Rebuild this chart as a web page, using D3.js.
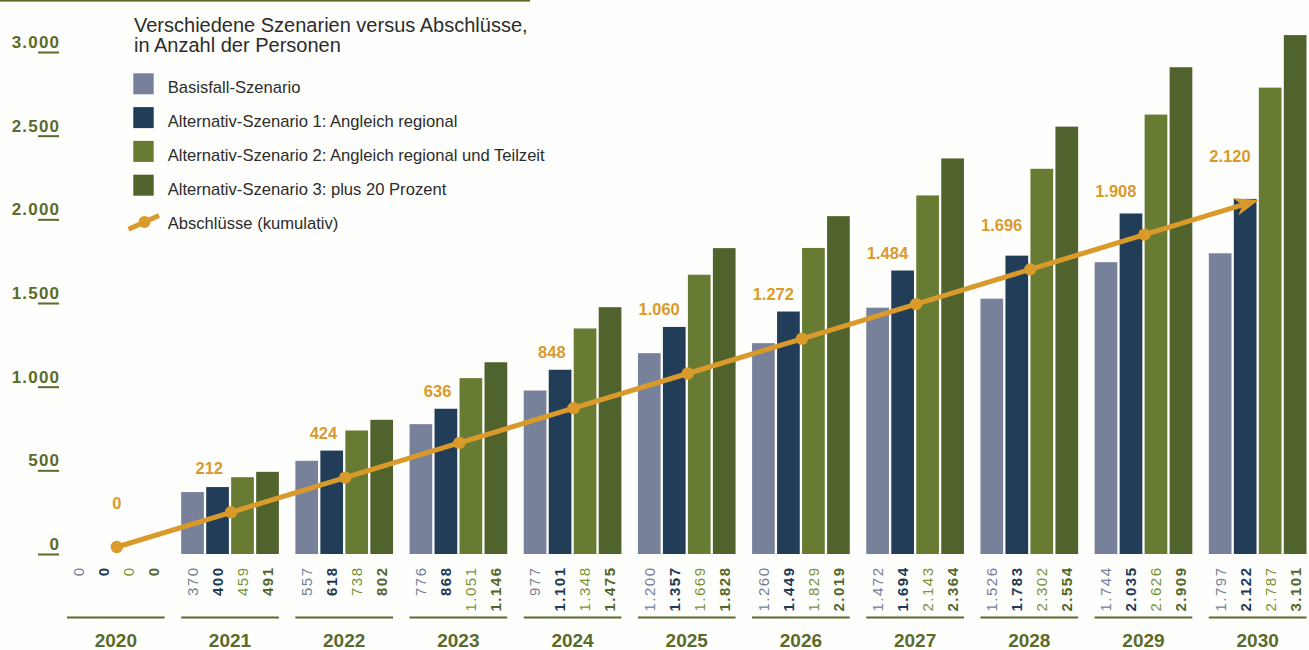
<!DOCTYPE html>
<html>
<head>
<meta charset="utf-8">
<script src="https://cdn.jsdelivr.net/npm/d3@7"></script>
<style>
  html, body { margin: 0; padding: 0; background: #fefefd; }
  svg { display: block; font-family: "Liberation Sans", Arial, Helvetica, sans-serif; }
</style>
</head>
<body>
<svg id="chart" width="1309" height="650"></svg>
<script>
// ---------- data ----------
const years = ["2020","2021","2022","2023","2024","2025","2026","2027","2028","2029","2030"];
const basisfall = [0, 370, 557, 776, 977, 1200, 1260, 1472, 1526, 1744, 1797];
const alternativ1 = [0, 400, 618, 868, 1101, 1357, 1449, 1694, 1783, 2035, 2122];
const alternativ2 = [0, 459, 738, 1051, 1348, 1669, 1829, 2143, 2302, 2626, 2787];
const alternativ3 = [0, 491, 802, 1146, 1475, 1828, 2019, 2364, 2554, 2909, 3101];
const abschluesse = [0, 212, 424, 636, 848, 1060, 1272, 1484, 1696, 1908, 2120];
const seriesNames = [
  "Basisfall-Szenario",
  "Alternativ-Szenario 1: Angleich regional",
  "Alternativ-Szenario 2: Angleich regional und Teilzeit",
  "Alternativ-Szenario 3: plus 20 Prozent"
];
const lineName = "Abschlüsse (kumulativ)";
const titleLines = ["Verschiedene Szenarien versus Abschlüsse,", "in Anzahl der Personen"];
const yTicks = [0, 500, 1000, 1500, 2000, 2500, 3000];

// ---------- styles ----------
const barColors = ["#77819a", "#213d57", "#687b33", "#50632c"];
const labelColors = ["#76809a", "#1f3a55", "#789338", "#53672a"];
const labelWeights = ["normal", "bold", "normal", "bold"];
const orange = "#d99a2b";
const olive = "#5b6b2a";

const series = [basisfall, alternativ1, alternativ2, alternativ3];
const de = d3.formatLocale({decimal: ",", thousands: ".", grouping: [3], currency: ["", " €"]});
const fmt = de.format(",d");

const svg = d3.select("#chart");

// ---------- scales ----------
const x = d3.scaleBand().domain(years).range([67, 1306.5]).paddingInner(0.1445).paddingOuter(0);
const xs = d3.scaleBand().domain(d3.range(4)).range([0, x.bandwidth()]).paddingInner(0.092).paddingOuter(0);
const y = d3.scaleLinear().domain([0, 3000]).range([554, 52]);
const yLine = d3.scaleLinear().domain([0, d3.max(abschluesse)]).range([547, 200]);

// top rule
svg.append("rect").attr("x", 0).attr("y", 0).attr("width", 530).attr("height", 1.6).attr("fill", olive);

// ---------- y axis ----------
const yAxis = d3.axisLeft(y).tickValues(yTicks).tickFormat(fmt).tickSizeInner(21).tickSizeOuter(0);
const gy = svg.append("g").attr("transform", "translate(59,0)").call(yAxis);
gy.select(".domain").remove();
gy.selectAll(".tick line").attr("stroke", olive).attr("stroke-width", 2);
gy.selectAll(".tick text")
  .attr("x", 1.2).attr("dy", -4.5)
  .attr("text-anchor", "end")
  .attr("fill", olive)
  .attr("font-size", 17).attr("font-weight", "bold")
  .attr("letter-spacing", 1.2)
  .style("font-family", "'Liberation Sans', Arial, sans-serif");

// ---------- bars ----------
const groups = svg.append("g").selectAll("g.year").data(years).join("g")
  .attr("class", "year")
  .attr("transform", d => `translate(${x(d)},0)`);

groups.selectAll("rect").data((d, i) => series.map((s, k) => ({k, v: s[i]}))).join("rect")
  .attr("x", d => xs(d.k))
  .attr("width", xs.bandwidth())
  .attr("y", d => y(d.v))
  .attr("height", d => y(0) - y(d.v))
  .attr("fill", d => barColors[d.k]);

// value labels (rotated)
groups.selectAll("text.val").data((d, i) => series.map((s, k) => ({k, v: s[i]}))).join("text")
  .attr("class", "val")
  .attr("transform", d => `translate(${xs(d.k) + xs.bandwidth() / 2},566.5) rotate(-90)`)
  .attr("text-anchor", "end")
  .attr("dy", "0.36em")
  .attr("font-size", 15)
  .attr("letter-spacing", 1.5)
  .attr("font-weight", d => labelWeights[d.k])
  .attr("fill", d => labelColors[d.k])
  .text(d => fmt(d.v));

// group rules + year labels
groups.append("line")
  .attr("x1", 0).attr("x2", x.bandwidth())
  .attr("y1", 617.5).attr("y2", 617.5)
  .attr("stroke", olive).attr("stroke-width", 2);
groups.append("text")
  .attr("x", x.bandwidth() / 2).attr("y", 646.5)
  .attr("text-anchor", "middle")
  .attr("font-size", 19).attr("font-weight", "bold")
  .attr("fill", olive)
  .text(d => d);

// ---------- line ----------
const pts = abschluesse.map((v, i) => [x(years[i]) + x.bandwidth() / 2 + 1, yLine(v), v, i]);
const last = pts[pts.length - 1], prev = pts[pts.length - 2];
const ang = Math.atan2(last[1] - prev[1], last[0] - prev[0]);
const ux = Math.cos(ang), uy = Math.sin(ang), nx = -uy, ny = ux;
const headLen = 24, headW = 9, notch = 7;
const notchPt = [last[0] - (headLen - notch) * ux, last[1] - (headLen - notch) * uy];
const linePts = pts.slice(0, -1).map(p => [p[0], p[1]]).concat([notchPt]);

svg.append("path")
  .attr("d", d3.line()(linePts))
  .attr("fill", "none").attr("stroke", orange).attr("stroke-width", 5);

const bx = last[0] - headLen * ux, by = last[1] - headLen * uy;
svg.append("path")
  .attr("d", d3.line()([
    [last[0], last[1]],
    [bx + headW * nx, by + headW * ny],
    notchPt,
    [bx - headW * nx, by - headW * ny]
  ]) + "Z")
  .attr("fill", orange);

svg.append("g").selectAll("circle").data(pts.slice(0, -1)).join("circle")
  .attr("cx", d => d[0]).attr("cy", d => d[1]).attr("r", 6.2).attr("fill", orange);

svg.append("g").selectAll("text").data(pts).join("text")
  .attr("x", d => d[3] === 0 ? d[0] : d[0] - 8)
  .attr("y", d => Math.min(y(alternativ1[d[3]]) - 18, d[1] - 44) + 6)
  .attr("text-anchor", d => d[3] === 0 ? "middle" : "end")
  .attr("font-size", 16.5).attr("font-weight", "bold")
  .attr("fill", orange)
  .text(d => fmt(d[2]));

// ---------- title & legend ----------
svg.append("g").selectAll("text").data(titleLines).join("text")
  .attr("x", 134).attr("y", (d, i) => 31.7 + i * 20)
  .attr("font-size", 20).attr("fill", "#2c2c2c")
  .text(d => d);

const leg = svg.append("g").selectAll("g").data(seriesNames).join("g")
  .attr("transform", (d, i) => `translate(0,${i * 33.8})`);
leg.append("rect").attr("x", 133.3).attr("y", 73.3).attr("width", 20.4).attr("height", 21)
  .attr("fill", (d, i) => barColors[i]);
leg.append("text").attr("x", 167.7).attr("y", 93.3)
  .attr("font-size", 16.6).attr("fill", "#2c2c2c").text(d => d);

svg.append("line").attr("x1", 128.5).attr("y1", 229.3).attr("x2", 159).attr("y2", 215.5)
  .attr("stroke", orange).attr("stroke-width", 5);
svg.append("circle").attr("cx", 144.5).attr("cy", 222).attr("r", 6).attr("fill", orange);
svg.append("text").attr("x", 167.7).attr("y", 93.3 + 4 * 33.8)
  .attr("font-size", 16.6).attr("fill", "#2c2c2c").text(lineName);
</script>
</body>
</html>
